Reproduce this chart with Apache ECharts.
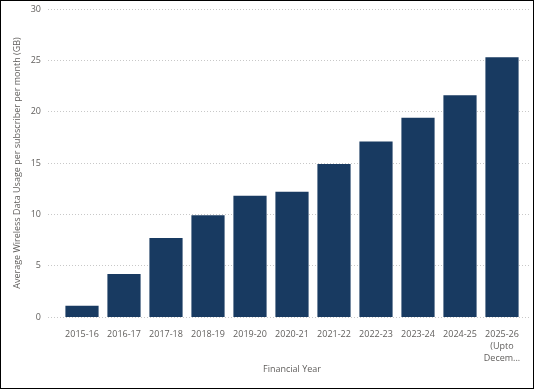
<!DOCTYPE html>
<html><head><meta charset="utf-8">
<script src="https://cdn.jsdelivr.net/npm/echarts@6/dist/echarts.min.js"></script>
<style>
html,body{margin:0;padding:0;background:#fff;}
#c{width:534px;height:389px;box-sizing:border-box;border:1px solid #000;}
</style></head><body>
<div id="c"></div>
<script>
const categories = ["2015-16","2016-17","2017-18","2018-19","2019-20","2020-21","2021-22","2022-23","2023-24","2024-25","2025-26\n(Upto\nDecem..."];
const usage = [1.1, 4.2, 7.7, 9.9, 11.8, 12.2, 14.9, 17.1, 19.4, 21.6, 25.3];
const yTicks = {min: 0, max: 30, interval: 5};

const font = '"Segoe UI","Open Sans","DejaVu Sans",sans-serif';
const txt = '#605E5C';
const chart = echarts.init(document.getElementById('c'), null, {renderer: 'canvas'});
chart.setOption({
  animation: false,
  grid: [
    {left: 60, right: 10, top: 8, bottom: 71},
    {left: 47, right: 3, top: 8, bottom: 71}
  ],
  xAxis: [
    {type: 'category', gridIndex: 0, data: categories,
     axisLine: {show: false}, axisTick: {show: false},
     axisLabel: {color: txt, fontSize: 9, fontFamily: font, margin: 11, lineHeight: 12, interval: 0},
     name: 'Financial Year', nameLocation: 'middle', nameGap: 48, nameMoveOverlap: false,
     nameTextStyle: {color: txt, fontSize: 9, fontFamily: font}},
    {type: 'value', gridIndex: 1, show: false, min: 0, max: 1}
  ],
  yAxis: [
    {type: 'value', gridIndex: 0, min: yTicks.min, max: yTicks.max, interval: yTicks.interval,
     axisLabel: {show: false}, splitLine: {show: false}, axisLine: {show: false}, axisTick: {show: false},
     name: 'Average Wireless Data Usage per subscriber per month (GB)', nameLocation: 'middle', nameGap: 39,
     nameMoveOverlap: false,
     nameTextStyle: {color: txt, fontSize: 9, fontFamily: font}},
    {type: 'value', gridIndex: 1, min: yTicks.min, max: yTicks.max, interval: yTicks.interval,
     axisLine: {show: false}, axisTick: {show: false},
     axisLabel: {color: txt, fontSize: 9, fontFamily: font, margin: 7},
     splitLine: {show: true, lineStyle: {color: '#C8C8C8', type: [1, 2], width: 1}}}
  ],
  series: [
    {type: 'bar', xAxisIndex: 0, yAxisIndex: 0, data: usage, barCategoryGap: '21%',
     itemStyle: {color: '#183A61'}},
    {type: 'scatter', xAxisIndex: 1, yAxisIndex: 1, data: [], silent: true}
  ]
});
</script>
</body></html>
